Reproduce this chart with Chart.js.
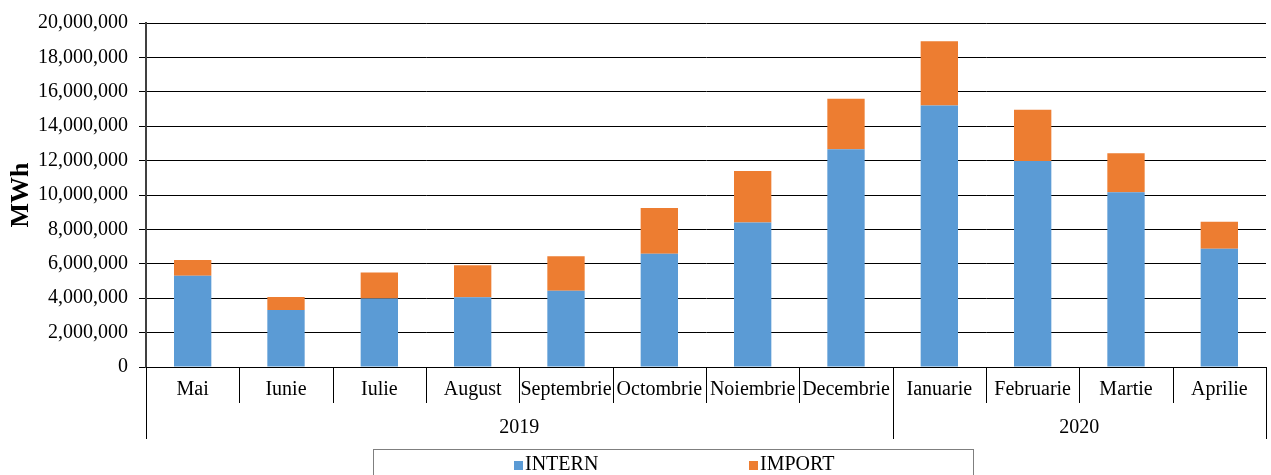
<!DOCTYPE html>
<html>
<head>
  <title>INTERN / IMPORT MWh</title>
  <meta charset="UTF-8" />
  <script src="https://cdn.jsdelivr.net/npm/chart.js"></script>
  <style>
    html, body {
      margin: 0;
      padding: 0;
      background: #fff;
    }
    #wrap {
      width: 1271px;
      height: 475px;
    }
  </style>
</head>
<body>
  <div id="wrap"><canvas id="mwhChart" width="1271" height="475"></canvas></div>

  <script>
// values in MWh
const months = ['Mai', 'Iunie', 'Iulie', 'August', 'Septembrie', 'Octombrie', 'Noiembrie', 'Decembrie',
                'Ianuarie', 'Februarie', 'Martie', 'Aprilie'];
const years = ['2019', '2020'];
const monthsPerYear = [8, 4];
const intern = [5300000, 3320000, 3980000, 4050000, 4440000, 6590000, 8400000, 12660000,
                15200000, 11970000, 10160000, 6880000];
const importVals = [920000, 750000, 1510000, 1870000, 2000000, 2650000, 2990000, 2940000,
                    3740000, 2980000, 2270000, 1570000];
const yTicks = [0, 2000000, 4000000, 6000000, 8000000, 10000000, 12000000, 14000000, 16000000, 18000000, 20000000];

const FONT = '"Liberation Serif", "Times New Roman", serif';

// draws the year row under the month labels, plus the separator lines
const groupAxis = {
  id: 'groupAxis',
  afterDraw(chart) {
    const ctx = chart.ctx;
    const x = chart.scales.x;
    const bottom = chart.chartArea.bottom;
    ctx.save();
    ctx.strokeStyle = '#000';
    ctx.lineWidth = 1;
    // month separators
    for (let i = 0; i <= months.length; i++) {
      const px = Math.round(x.getPixelForValue(i - 0.5)) + 0.5;
      ctx.beginPath();
      ctx.moveTo(px, bottom);
      ctx.lineTo(px, bottom + 36);
      ctx.stroke();
    }
    // year separators and labels
    let start = 0;
    ctx.font = '20px ' + FONT;
    ctx.fillStyle = '#000';
    ctx.textAlign = 'center';
    ctx.textBaseline = 'middle';
    years.forEach((yr, k) => {
      const end = start + monthsPerYear[k];
      const x0 = x.getPixelForValue(start - 0.5);
      const x1 = x.getPixelForValue(end - 0.5);
      [x0, x1].forEach(px => {
        px = Math.round(px) + 0.5;
        ctx.beginPath();
        ctx.moveTo(px, bottom);
        ctx.lineTo(px, bottom + 72);
        ctx.stroke();
      });
      ctx.fillText(yr, (x0 + x1) / 2, bottom + 61);
      start = end;
    });
    ctx.restore();
  }
};

// boxed legend at the bottom
const boxLegend = {
  id: 'boxLegend',
  afterDraw(chart) {
    const ctx = chart.ctx;
    const top = chart.chartArea.bottom + 82;
    ctx.save();
    ctx.strokeStyle = '#7f7f7f';
    ctx.lineWidth = 1;
    ctx.strokeRect(373.5, top + 0.5, 600, 40);
    ctx.font = '20px ' + FONT;
    ctx.textBaseline = 'middle';
    ctx.textAlign = 'left';
    const itemX = [514, 749];
    chart.data.datasets.forEach((ds, i) => {
      ctx.fillStyle = ds.backgroundColor;
      ctx.fillRect(itemX[i], top + 12, 9, 9);
      ctx.fillStyle = '#000';
      ctx.fillText(ds.label, itemX[i] + 11, top + 16);
    });
    ctx.restore();
  }
};

const ctx = document.getElementById('mwhChart').getContext('2d');
new Chart(ctx, {
  type: 'bar',
  data: {
    labels: months,
    datasets: [
      {
        label: 'INTERN',
        data: intern,
        backgroundColor: '#5B9BD5',
        barPercentage: 0.4,
        categoryPercentage: 1.0
      },
      {
        label: 'IMPORT',
        data: importVals,
        backgroundColor: '#ED7D31',
        barPercentage: 0.4,
        categoryPercentage: 1.0
      }
    ]
  },
  options: {
    responsive: false,
    animation: false,
    layout: { padding: { top: 18, right: 5, bottom: 26, left: 0 } },
    scales: {
      x: {
        stacked: true,
        grid: { display: false, drawTicks: false },
        border: { color: '#000', width: 1 },
        ticks: {
          color: '#000',
          font: { family: FONT, size: 20 },
          padding: 11,
          maxRotation: 0,
          autoSkip: false
        },
        afterFit(scale) { scale.height = 82; }
      },
      y: {
        stacked: true,
        min: 0,
        max: 20000000,
        afterBuildTicks(scale) { scale.ticks = yTicks.map(v => ({ value: v })); },
        grid: { color: '#000', lineWidth: 1, tickLength: 7 },
        border: { color: '#404040', width: 2 },
        ticks: {
          color: '#000',
          font: { family: FONT, size: 20 },
          padding: 11,
          callback: v => v.toLocaleString('en-US')
        },
        title: {
          display: true,
          text: 'MWh',
          color: '#000',
          font: { family: FONT, size: 26, weight: 'bold' },
          padding: { top: 6, bottom: 0 }
        },
        afterFit(scale) { scale.width = 146; }
      }
    },
    plugins: {
      legend: { display: false },
      tooltip: { enabled: false }
    }
  },
  plugins: [groupAxis, boxLegend]
});
  </script>
</body>
</html>
